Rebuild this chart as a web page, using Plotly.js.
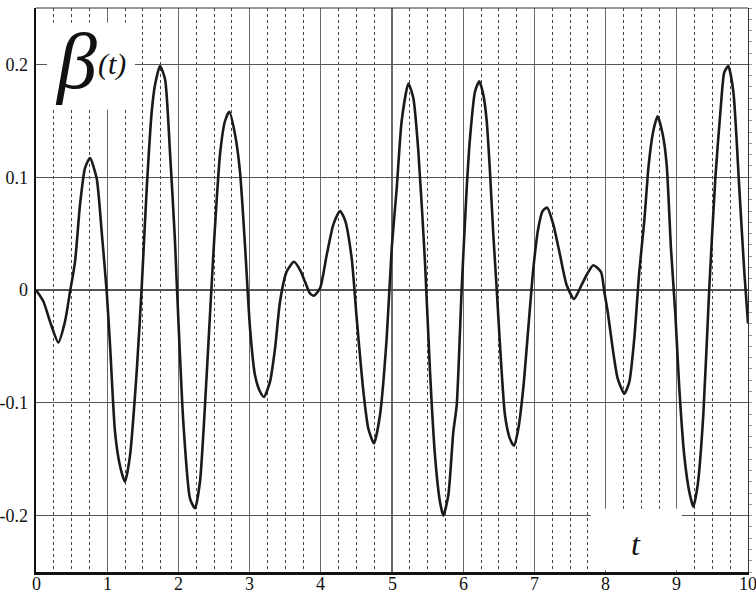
<!DOCTYPE html>
<html>
<head>
<meta charset="utf-8">
<script src="https://cdn.plot.ly/plotly-3.0.1.min.js"></script>
<style>
html,body{margin:0;padding:0;background:#fff;}
#chart{width:756px;height:593px;}
</style>
</head>
<body>
<div id="chart"></div>
<script>
// time values t
var tVals = [0, 0.103, 0.197, 0.313, 0.407, 0.478, 0.548, 0.618, 0.688, 0.758, 0.852, 0.922, 0.993,
  1.04, 1.11, 1.18, 1.25, 1.32, 1.414, 1.484, 1.555, 1.625, 1.672, 1.742, 1.812, 1.882, 1.95,
  1.976, 2.069, 2.163, 2.233, 2.303, 2.397, 2.49, 2.584, 2.654, 2.715, 2.795, 2.865, 2.935,
  3.006, 3.076, 3.146, 3.202, 3.286, 3.357, 3.427, 3.52, 3.624, 3.708, 3.778, 3.848, 3.904, 3.989,
  4.083, 4.176, 4.27, 4.34, 4.434, 4.504, 4.598, 4.668, 4.747, 4.831, 4.925, 4.996,
  5.066, 5.136, 5.23, 5.3, 5.37, 5.463, 5.534, 5.604, 5.674, 5.721, 5.791, 5.861, 5.909, 5.979,
  6.049, 6.096, 6.166, 6.226, 6.283, 6.33, 6.376, 6.423, 6.47, 6.517, 6.587, 6.657, 6.713, 6.774,
  6.844, 6.914, 6.985, 7.055, 7.116, 7.18, 7.266, 7.36, 7.453, 7.556, 7.64, 7.734, 7.827, 7.935,
  7.982, 8.029, 8.1, 8.17, 8.263, 8.333, 8.403, 8.473, 8.543, 8.605, 8.67, 8.73, 8.802, 8.858,
  8.918, 8.98, 9.035, 9.105, 9.176, 9.232, 9.293, 9.372, 9.456, 9.541, 9.62, 9.667, 9.723,
  9.794, 9.878, 9.948, 10.0];
// beta(t) values
var betaVals = [0, -0.010, -0.028, -0.0465, -0.028, -0.0015, 0.025, 0.0755, 0.108, 0.117, 0.099, 0.052, -0.0015,
  -0.049, -0.126, -0.156, -0.170, -0.147, -0.0726, 0.0015, 0.090, 0.158, 0.182, 0.1985, 0.187, 0.122, 0.046,
  0.0074, -0.117, -0.185, -0.1935, -0.170, -0.0756, 0.031, 0.120, 0.1496, 0.158, 0.138, 0.105, 0.040,
  -0.034, -0.0756, -0.090, -0.0948, -0.0815, -0.052, -0.0104, 0.0163, 0.025, 0.0178, 0.0074, -0.003, -0.005, 0.0015,
  0.031, 0.058, 0.070, 0.062, 0.028, -0.025, -0.090, -0.123, -0.136, -0.111, -0.043, 0.037,
  0.090, 0.150, 0.183, 0.170, 0.123, 0.025, -0.0726, -0.147, -0.188, -0.200, -0.182, -0.126, -0.102, 0.0015,
  0.090, 0.135, 0.176, 0.185, 0.173, 0.150, 0.105, 0.049, 0.0015, -0.049, -0.111, -0.132, -0.138, -0.123,
  -0.087, -0.034, 0.019, 0.055, 0.070, 0.073, 0.058, 0.031, 0.0044, -0.008, 0.0015, 0.0133, 0.022, 0.016,
  -0.0015, -0.019, -0.052, -0.0785, -0.092, -0.0815, -0.043, 0.0163, 0.061, 0.111, 0.141, 0.154, 0.138, 0.111,
  0.037, -0.022, -0.087, -0.147, -0.179, -0.192, -0.173, -0.111, 0.0015, 0.099, 0.164, 0.193, 0.1985,
  0.176, 0.090, 0.016, -0.0296];

var xTicks = [0,1,2,3,4,5,6,7,8,9,10];
var xTickText = ["0","1","2","3","4","5","6","7","8","9","10"];
var yTicks = [-0.2,-0.1,0,0.1,0.2];
var yTickText = ["-0.2","-0.1","0","0.1","0.2"];

var serif = "Liberation Serif";

var trace = {
  x: tVals, y: betaVals, type: 'scatter', mode: 'lines',
  line: {color: '#1a1a1a', width: 2.6, shape: 'spline', smoothing: 0.6},
  hoverinfo: 'skip', showlegend: false
};
var dummy = {x:[0], y:[0], yaxis:'y2', type:'scatter', mode:'markers',
  marker:{opacity:0}, hoverinfo:'skip', showlegend:false};

var annotations = [
  {xref: 'x', yref: 'y', x: 0.56, y: 0.203, xanchor: 'center', yanchor: 'middle', showarrow: false,
   text: '<i>β</i>', font: {family: serif, size: 80, color: '#111'}},
  {xref: 'x', yref: 'y', x: 1.07, y: 0.2, xanchor: 'center', yanchor: 'middle', showarrow: false,
   text: '<i>(t)</i>', font: {family: serif, size: 30, color: '#111'}},
  {xref: 'x', yref: 'y', x: 8.42, y: -0.225, xanchor: 'center', yanchor: 'middle', showarrow: false,
   text: '<i>t</i>', font: {family: serif, size: 32, color: '#111'}}
];
xTicks.forEach(function (v, i) {
  annotations.push({xref: 'x', yref: 'paper', x: v, y: 0, yshift: 0, xanchor: 'center', yanchor: 'top',
    showarrow: false, text: xTickText[i], font: {family: serif, size: 18, color: '#111'}});
});

var layout = {
  width: 756, height: 593,
  margin: {l: 36, r: 8, t: 8, b: 21, pad: 0},
  paper_bgcolor: '#fff', plot_bgcolor: '#fff',
  showlegend: false,
  xaxis: {
    range: [0, 10], tickvals: xTicks, showticklabels: false,
    showgrid: true, gridcolor: '#6a6a6a', gridwidth: 1.2,
    minor: {dtick: 0.25, showgrid: true, gridcolor: '#444', griddash: 'dot', gridwidth: 1},
    zeroline: false, showline: true, linecolor: '#111', linewidth: 2.5, mirror: false,
    ticks: '', fixedrange: true
  },
  yaxis: {
    range: [-0.25, 0.25], tickvals: yTicks, ticktext: yTickText,
    showgrid: true, gridcolor: '#555', gridwidth: 1.2,
    zeroline: false, showline: true, linecolor: '#111', linewidth: 2.5,
    ticks: '', ticklabelstandoff: 2, tickfont: {family: serif, size: 18, color: '#111'},
    fixedrange: true
  },
  yaxis2: {
    overlaying: 'y', side: 'right', range: [-0.25, 0.25], dtick: 0.01,
    showgrid: false, zeroline: false, showline: true, linecolor: '#333', linewidth: 1.2,
    ticks: 'outside', ticklen: 3, tickcolor: '#999', tickwidth: 1,
    showticklabels: false, fixedrange: true
  },
  shapes: [
    {type: 'line', xref: 'paper', yref: 'paper', x0: 0, x1: 1, y0: 1, y1: 1,
     line: {color: '#333', width: 1.2}, layer: 'above'},
    {type: 'rect', xref: 'x', yref: 'y', x0: 0.155, x1: 1.39, y0: 0.16, y1: 0.237,
     fillcolor: '#fff', line: {width: 0}, layer: 'between'},
    {type: 'rect', xref: 'x', yref: 'y', x0: 7.79, x1: 9.07, y0: -0.2485, y1: -0.194,
     fillcolor: '#fff', line: {width: 0}, layer: 'between'}
  ],
  annotations: annotations
};

Plotly.newPlot('chart', [trace, dummy], layout, {staticPlot: true, displayModeBar: false});
</script>
</body>
</html>
